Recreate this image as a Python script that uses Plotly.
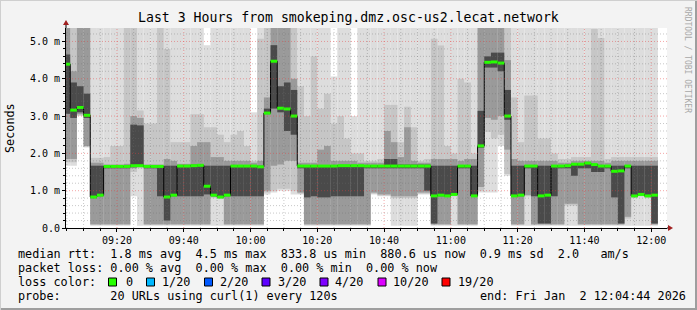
import plotly.graph_objects as go
from datetime import datetime, timedelta

# ---------------- data (ms) : per 2-minute step, sorted ping quantiles ----------------
ping_min = [1.67,1.67,3.0,2.16,0.06,0.06,0.06,0.06,0.06,0.06,0.85,0.06,0.06,0.06,0.06,0.06,0.06,0.06,0.06,0.06,
            0.06,0.06,0.06,0.06,0.06,0.06,0.06,0.06,0.06,0.06,0.9,0.95,1.0,1.0,0.9,0.9,0.06,0.06,0.06,0.06,
            0.06,0.06,0.06,0.06,0.06,0.06,0.9,0.85,0.85,0.06,0.06,0.06,0.06,0.9,0.9,0.06,0.06,0.06,0.06,0.06,
            0.06,0.06,0.95,0.95,0.95,2.2,1.4,0.06,0.06,0.06,0.06,0.06,0.06,0.06,0.06,0.06,0.06,0.06,0.06,0.06,
            0.06,0.06,0.06,0.06,0.06,0.06,0.06,0.06,0.06]
ping_lo3 = [1.76,1.76,3.02,2.18,0.08,0.08,0.08,0.08,0.08,0.08,1.5,1.6,0.08,0.08,0.08,0.08,0.08,0.08,0.08,0.08,
            0.08,0.08,0.8,0.78,0.08,0.08,0.08,0.08,0.08,0.08,0.95,1.0,1.05,1.05,1.0,0.92,0.08,0.08,0.08,0.08,
            0.08,0.08,0.08,0.08,0.08,0.08,0.92,0.87,0.87,0.8,0.8,0.8,0.8,0.92,0.92,0.08,0.08,0.08,0.85,0.08,
            0.08,0.08,1.0,2.57,2.4,2.5,1.45,0.08,0.08,0.85,0.08,0.08,0.08,0.08,0.08,0.6,0.6,0.08,0.08,0.08,
            0.08,0.08,0.08,0.08,0.25,0.8,0.85,0.8,0.08]
ping_lo2 = [1.85,1.85,3.05,2.2,0.1,0.1,0.1,0.1,0.1,0.1,1.6,1.63,0.1,0.1,0.1,0.1,0.1,0.1,0.1,0.1,
            0.1,0.1,0.83,0.8,0.1,0.1,0.1,0.1,0.1,0.1,1.0,1.67,1.7,1.8,1.8,0.95,0.1,0.1,0.1,0.1,
            0.1,0.1,0.1,0.1,0.1,0.1,0.95,0.9,0.9,0.85,0.85,0.85,0.85,0.95,0.95,0.1,0.1,0.1,0.88,0.1,
            0.1,0.1,1.1,2.95,2.9,3.0,2.1,0.1,0.1,0.88,0.1,0.1,0.1,0.1,0.1,0.65,0.65,0.1,0.1,0.1,
            0.1,0.1,0.1,0.1,0.3,0.83,0.87,0.83,0.1]
ping_lo1 = [3.06,2.95,3.1,2.95,0.8,0.85,1.6,1.6,1.6,1.6,1.63,1.65,1.6,1.6,0.85,0.2,0.85,0.85,0.85,0.85,
            0.85,0.9,0.86,0.82,0.85,0.85,0.85,0.85,0.85,0.85,3.05,3.2,3.1,2.6,2.5,1.6,0.82,0.85,0.82,0.82,
            0.85,0.85,0.85,0.85,0.85,1.6,1.6,1.6,1.6,1.6,1.6,1.6,1.6,1.6,1.0,0.12,0.85,0.84,0.89,1.6,
            1.6,0.84,2.15,4.3,4.3,4.2,2.9,0.84,0.85,1.6,0.85,0.12,0.12,0.85,1.6,1.6,1.4,1.6,1.6,1.5,
            1.5,1.6,0.82,0.12,1.6,0.85,0.89,0.85,0.12]
median = [4.39,3.16,3.23,3.02,0.83,0.88,1.65,1.65,1.65,1.65,1.67,1.67,1.65,1.65,1.65,0.83,0.88,1.66,1.66,1.67,
          1.68,1.12,0.88,0.83,0.88,1.66,1.66,1.66,1.66,1.64,3.08,4.47,3.21,3.19,3.0,1.66,1.66,1.66,1.66,1.66,
          1.66,1.67,1.67,1.67,1.67,1.66,1.66,1.66,1.66,1.66,1.66,1.66,1.66,1.66,1.66,0.86,0.88,0.86,0.9,1.66,
          1.66,0.86,2.2,4.44,4.45,4.42,3.0,0.86,0.88,1.66,1.66,0.86,0.88,1.66,1.66,1.67,1.71,1.71,1.74,1.7,
          1.66,1.66,1.52,1.53,1.66,0.86,0.9,0.86,0.88]
ping_hi1 = [4.65,3.9,3.8,3.6,1.67,1.67,1.67,1.67,1.67,1.67,2.77,2.75,1.67,1.67,1.67,1.67,1.67,1.68,1.68,1.7,
            1.7,1.67,1.67,1.67,1.67,1.68,1.68,1.68,1.68,1.67,3.2,4.9,3.8,3.9,3.7,1.68,1.68,1.68,1.68,1.68,
            1.68,1.69,1.69,1.69,1.69,1.68,1.68,1.68,1.85,1.85,1.7,1.7,1.7,1.7,1.7,1.67,1.67,1.67,1.67,1.68,
            1.68,1.67,3.14,4.6,4.7,4.7,3.7,1.67,1.67,1.68,1.68,1.67,1.67,1.68,1.68,1.69,1.73,1.73,1.76,1.72,
            1.68,1.68,1.67,1.67,1.68,1.67,1.67,1.67,1.67]
ping_hi2 = [6,4.2,6,6,1.75,1.75,1.7,1.7,1.7,1.72,3.0,2.95,1.7,1.7,1.7,1.85,1.8,1.72,1.72,2.2,
            2.3,2.3,1.9,1.9,1.8,1.8,1.8,1.8,1.75,1.8,3.5,6,6,6,4.0,1.75,1.75,1.75,2.1,2.2,
            1.8,1.8,1.8,1.8,1.75,1.75,1.75,1.75,2.6,2.3,1.9,2.7,1.8,1.75,1.75,1.85,1.85,1.85,1.85,1.8,
            1.85,1.85,6,6,6,6,4.5,1.85,1.8,1.8,1.8,1.8,1.8,1.8,1.75,1.75,1.8,1.8,1.8,1.8,
            1.8,1.75,1.8,1.8,1.8,1.8,1.8,1.8,1.8]
ping_hi3 = [6,6,6,6,1.88,1.88,1.9,2.2,2.2,6,6,3.15,2.8,2.8,6,4.8,2.3,2.3,2.3,3.05,
            3.05,2.7,2.7,2.5,2.3,2.5,2.6,2.2,1.8,5.07,6,6,6,6,6,3.8,3.0,4.6,3.2,3.6,
            2.8,3.0,2.4,2.0,2.0,1.8,1.8,1.85,3.3,3.3,2.3,3.25,2.7,1.8,1.85,5.07,4.89,2.2,2.0,4.0,
            3.9,2.0,6,6,6,6,6,3.5,2.3,3.55,3.55,2.4,2.4,2.0,1.85,1.85,1.9,1.9,1.9,5.33,
            5.09,1.85,1.9,1.9,1.9,1.9,1.9,1.9,1.9]
ping_max = [6,6,6,6,6,6,6,6,6,6,6,6,6,6,6,6,6,6,6,6,
            6,4.9,6,6,6,6,6,6,3.1,6,6,6,6,6,6,6,6,6,6,6,
            4.06,6,6,3.0,6,6,6,6,6,6,6,6,6,6,6,6,6,6,6,6,
            6,6,6,6,6,6,6,6,6,6,6,6,6,6,6,6,6,6,6,6,
            6,6,6,6,6,6,6,6,6]

y_ticks = [0, 1, 2, 3, 4, 5]
y_tick_text = ["0.0", "1.0 m", "2.0 m", "3.0 m", "4.0 m", "5.0 m"]
loss_labels = ["0", "1/20", "2/20", "3/20", "4/20", "10/20", "19/20"]
loss_colors = ["#26ff00", "#00b8ff", "#0059ff", "#5e00ff", "#7e00ff", "#dd00ff", "#ff0000"]

first_step = datetime(2026, 1, 2, 9, 4)
step = timedelta(minutes=2)
view_start = datetime(2026, 1, 2, 9, 4, 44)
view_end = datetime(2026, 1, 2, 12, 4, 44)

# ---------------- geometry helpers (figure pixels -> paper coords) ----------------
W, H = 697, 310
L, R, T, B = 66, 30, 28, 82
PW, PH = W - L - R, H - T - B
def px(x): return (x - L) / PW
def py(y): return (H - B - y) / PH

MONO = "DejaVu Sans Mono"
n = len(median)
starts = [first_step + i * step for i in range(n)]
centers = [s + step / 2 for s in starts]

fig = go.Figure()
bands = [(ping_min, ping_max, "#dddddd"), (ping_lo3, ping_hi3, "#c6c6c6"),
         (ping_lo2, ping_hi2, "#9a9a9a"), (ping_lo1, ping_hi1, "#4a4a4a")]
for lo, hi, col in bands:
    fig.add_trace(go.Bar(x=centers, y=[h - l for l, h in zip(lo, hi)], base=lo,
                         width=step.total_seconds() * 1000,
                         marker=dict(color=col, line=dict(width=0)),
                         hoverinfo="skip", showlegend=False))

# black step line for median
fig.add_trace(go.Scatter(x=starts + [starts[-1] + step], y=median + [median[-1]],
                         mode="lines", line=dict(color="black", width=1, shape="hv"),
                         hoverinfo="skip", showlegend=False))
# green median segments
gx, gy = [], []
for s, m in zip(starts, median):
    gx += [s, s + step, None]
    gy += [m, m, None]
fig.add_trace(go.Scatter(x=gx, y=gy, mode="lines", line=dict(color=loss_colors[0], width=3),
                         hoverinfo="skip", showlegend=False))

shapes = []
# grid (dotted, drawn above the smoke)
ymax = 5.36
minor_c = "rgba(110,110,110,0.38)"
major_c = "rgba(230,60,60,0.45)"
t = datetime(2026, 1, 2, 9, 5)
while t < view_end:
    major = (t.minute % 20 == 0)
    shapes.append(dict(type="line", xref="x", yref="paper", x0=t, x1=t, y0=0, y1=1, layer="above",
                       line=dict(color=major_c if major else minor_c, width=1, dash="1px,2px")))
    t += timedelta(minutes=5)
k = 1
while k * 0.2 < ymax:
    v = round(k * 0.2, 2)
    major = (k % 5 == 0)
    shapes.append(dict(type="line", xref="paper", yref="y", x0=0, x1=1, y0=v, y1=v, layer="above",
                       line=dict(color=major_c if major else minor_c, width=1, dash="1px,2px")))
    k += 1

# axis extensions and arrows
shapes.append(dict(type="line", xref="paper", yref="paper", x0=1, x1=px(670), y0=0, y1=0,
                   line=dict(color="black", width=1)))
shapes.append(dict(type="line", xref="paper", yref="paper", x0=0, x1=0, y0=1, y1=py(24),
                   line=dict(color="black", width=1)))
shapes.append(dict(type="path", xref="paper", yref="paper",
                   path=f"M {px(668)} {py(225)} L {px(673)} {py(228)} L {px(668)} {py(231)} Z",
                   fillcolor="#a02020", line=dict(width=0)))
shapes.append(dict(type="path", xref="paper", yref="paper",
                   path=f"M {px(63)} {py(25)} L {px(66)} {py(20)} L {px(69)} {py(25)} Z",
                   fillcolor="#a02020", line=dict(width=0)))
# outer frame of the image
shapes.append(dict(type="line", xref="paper", yref="paper", x0=px(0), x1=px(697), y0=py(309), y1=py(309),
                   line=dict(color="#9e9e9e", width=2)))
shapes.append(dict(type="line", xref="paper", yref="paper", x0=px(696), x1=px(696), y0=py(0), y1=py(310),
                   line=dict(color="#9e9e9e", width=2)))
shapes.append(dict(type="line", xref="paper", yref="paper", x0=px(0), x1=px(697), y0=py(0.5), y1=py(0.5),
                   line=dict(color="#cfcfcf", width=1)))
shapes.append(dict(type="line", xref="paper", yref="paper", x0=px(0.5), x1=px(0.5), y0=py(0), y1=py(310),
                   line=dict(color="#cfcfcf", width=1)))

# loss colour swatches
sw_x = [108.5, 146.5, 204.5, 262, 320, 378, 442]
lbl_x = [123.5, 160, 217.5, 275.5, 333, 391, 455.5]
for xx, c in zip(sw_x, loss_colors):
    shapes.append(dict(type="rect", xref="paper", yref="paper", x0=px(xx), x1=px(xx + 8),
                       y0=py(278), y1=py(286), fillcolor=c, line=dict(color="black", width=1)))

NB = "\u00a0"
def mono(s): return s.replace(" ", NB)
annotations = []
def ann(text, x, y, size=11.8, color="black", xanchor="left", angle=0):
    annotations.append(dict(text=mono(text), x=px(x), y=py(y), xref="paper", yref="paper",
                            xanchor=xanchor, yanchor="middle", showarrow=False, textangle=angle,
                            font=dict(family=MONO, size=size, color=color)))

ann("Last 3 Hours from smokeping.dmz.osc-us2.lecat.network", 348, 17, size=13.2, xanchor="center")
ann("Seconds", 10, 128, xanchor="center", angle=-90)
ann("RRDTOOL / TOBI OETIKER", 688, 60, size=8, color="#a8a8a8", xanchor="center", angle=90)
ann("median rtt:  1.8 ms avg  4.5 ms max  833.8 us min  880.6 us now  0.9 ms sd  2.0   am/s", 16, 254)
ann("packet loss: 0.00 % avg  0.00 % max  0.00 % min  0.00 % now", 16, 268)
ann("loss color:", 16, 282)
for xx, t_ in zip(lbl_x, loss_labels):
    ann(t_, xx, 282)
ann("probe:       20 URLs using curl(1) every 120s", 16, 296)
ann("end: Fri Jan  2 12:04:44 2026", 478, 296)

fig.update_layout(
    width=W, height=H, margin=dict(l=L, r=R, t=T, b=B, pad=0),
    paper_bgcolor="#f3f3f3", plot_bgcolor="white",
    barmode="overlay", showlegend=False,
    shapes=shapes, annotations=annotations,
    xaxis=dict(type="date", range=[view_start, view_end], tickformat="%H:%M",
               tick0=datetime(2026, 1, 2, 9, 0), dtick=20 * 60 * 1000,
               showgrid=False, zeroline=False, showline=True, linecolor="black", linewidth=1,
               ticks="outside", ticklen=3, tickcolor="black", layer="above traces",
               tickfont=dict(family=MONO, size=10, color="black"),
               minor=dict(dtick=5 * 60 * 1000, ticks="outside", ticklen=2, tickcolor="black", showgrid=False)),
    yaxis=dict(range=[0, ymax], tickvals=y_ticks, ticktext=y_tick_text,
               showgrid=False, zeroline=False, showline=True, linecolor="black", linewidth=1,
               ticks="outside", ticklen=3, tickcolor="black", layer="above traces",
               tickfont=dict(family=MONO, size=10, color="black"),
               minor=dict(dtick=0.2, ticks="outside", ticklen=2, tickcolor="black", showgrid=False)),
)
fig.write_html("out.html")
